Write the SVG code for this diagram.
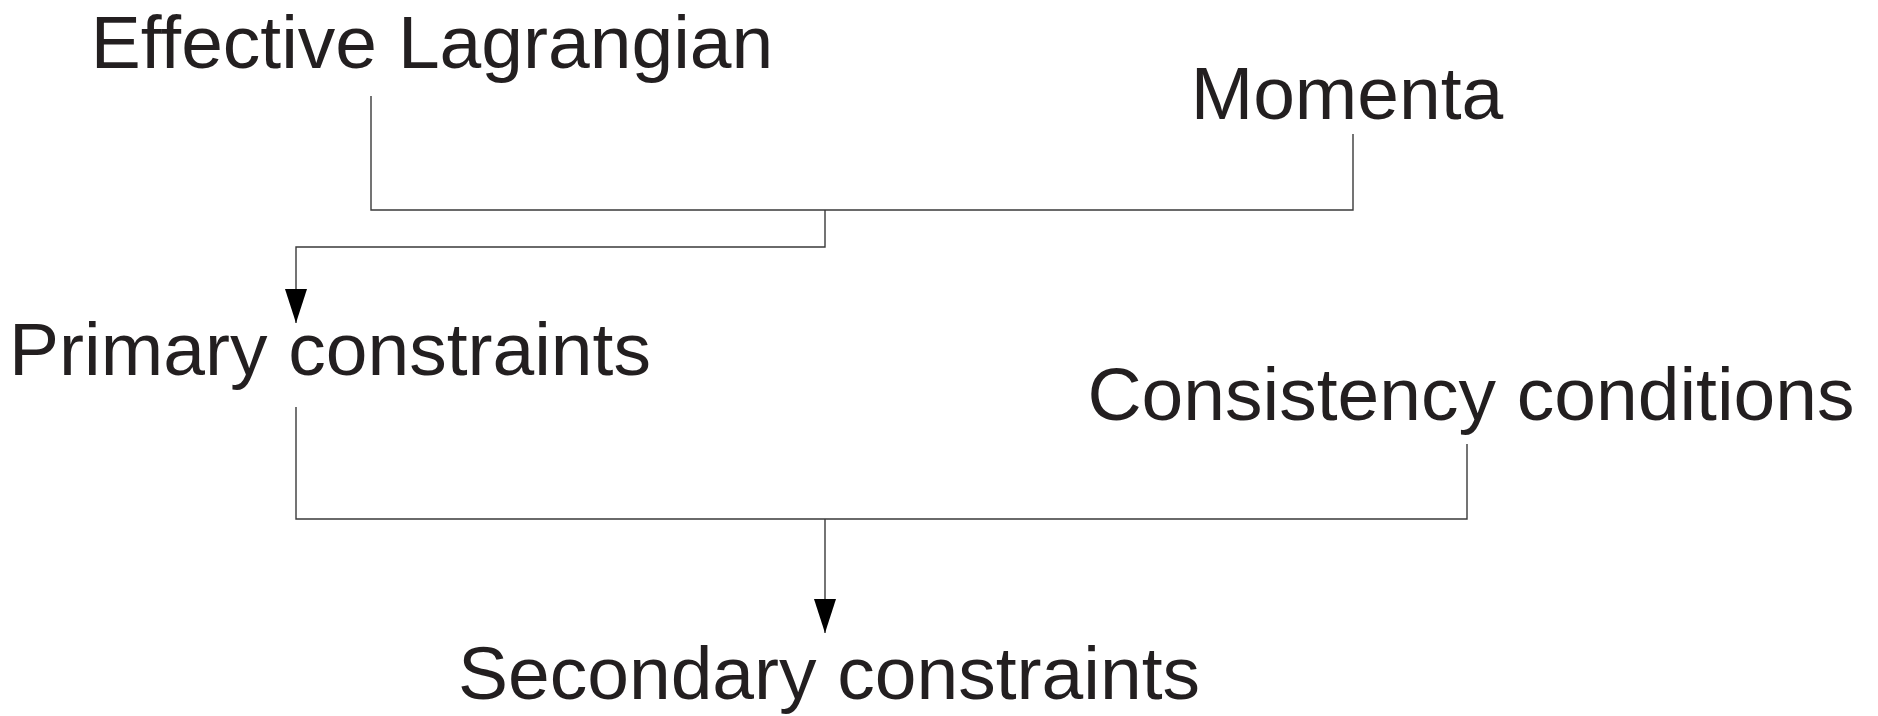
<svg xmlns="http://www.w3.org/2000/svg" width="1878" height="716" viewBox="0 0 1878 716">
<style>
.lbl{font-family:"Liberation Sans",Arial,Helvetica,sans-serif;font-size:75px;fill:#231f20;text-anchor:middle}
.cn{fill:none;stroke:#3a3a3a;stroke-width:1.4}
</style>
<defs>
<marker id="ah" markerUnits="userSpaceOnUse" markerWidth="34" markerHeight="22" refX="34" refY="11" orient="auto">
<path d="M0,0 L34,11 L0,22 z" fill="#000"/>
</marker>
</defs>
<rect width="1878" height="716" fill="#fff"/>
<g id="connectors">
<polyline class="cn" points="371,96 371,210 1353,210 1353,134"/>
<polyline class="cn" points="825,210 825,247 296,247 296,323" marker-end="url(#ah)"/>
<polyline class="cn" points="296,407 296,519 1467,519 1467,444"/>
<polyline class="cn" points="825,519 825,633" marker-end="url(#ah)"/>
</g>
<g id="effective-lagrangian"><text class="lbl" x="432" y="68">Effective Lagrangian</text></g>
<g id="momenta"><text class="lbl" x="1347" y="119">Momenta</text></g>
<g id="primary-constraints"><text class="lbl" x="330" y="375">Primary constraints</text></g>
<g id="consistency-conditions"><text class="lbl" x="1471" y="420">Consistency conditions</text></g>
<g id="secondary-constraints"><text class="lbl" x="829" y="699">Secondary constraints</text></g>
</svg>
